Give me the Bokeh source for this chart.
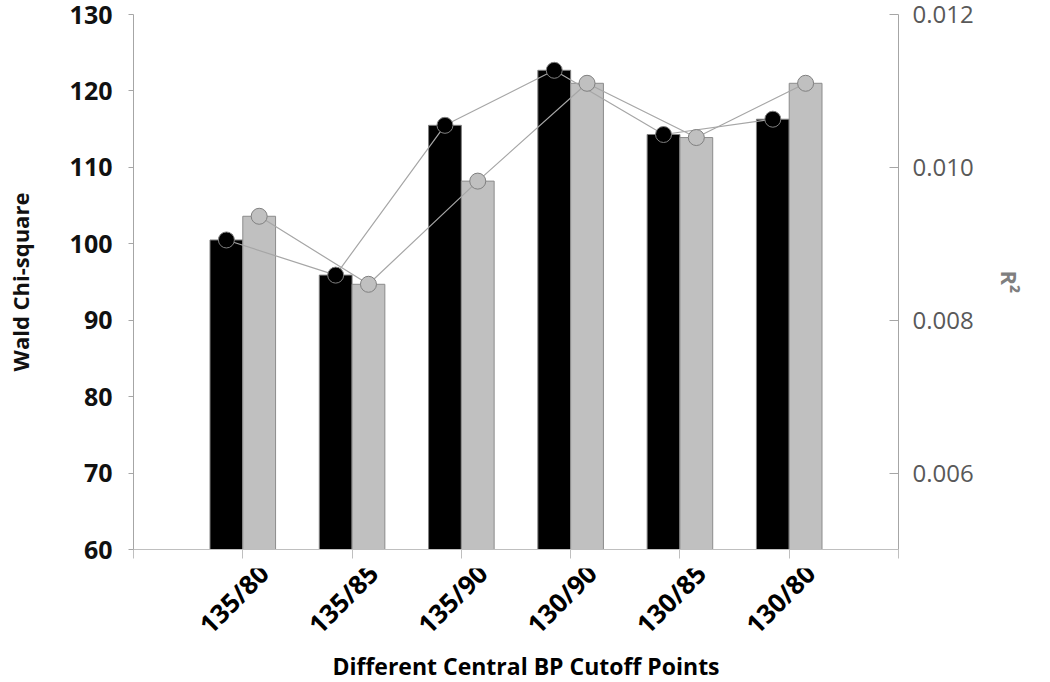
import math
from bokeh.plotting import figure
from bokeh.layouts import column
from bokeh.models import Range1d, LinearAxis, FixedTicker, NumeralTickFormatter
from bokeh.core.properties import value
from bokeh.embed import file_html
from bokeh.resources import INLINE

categories = ["135/80", "135/85", "135/90", "130/90", "130/85", "130/80"]
wald = [100.5, 95.9, 115.5, 122.7, 114.3, 116.3]
r2 = [0.00936, 0.00847, 0.00982, 0.01110, 0.01039, 0.01110]
left_ticks = [60, 70, 80, 90, 100, 110, 120, 130]
right_ticks = [0.006, 0.008, 0.010, 0.012]

pos = [i + 1 for i in range(len(categories))]
bw = 0.3
x_black = [x - bw / 2 for x in pos]
x_grey = [x + bw / 2 for x in pos]
xmax = len(categories) + 1

W = 1042
BL, BR = 133, 144
H1, H2 = 568, 110

p = figure(width=W, height=H1, x_range=Range1d(0, xmax),
           y_range=Range1d(60, 130), output_backend="svg", toolbar_location=None,
           min_border_left=BL, min_border_right=BR, min_border_top=14,
           min_border_bottom=19)
p.extra_y_ranges = {"r2": Range1d(0.005, 0.012)}
p.outline_line_color = None
p.xgrid.visible = False
p.ygrid.visible = False

p.vbar(x=x_black, top=wald, bottom=60, width=bw, fill_color="#000000",
       line_color="#808080", line_width=1)
p.vbar(x=x_grey, top=r2, bottom=0.005, width=bw, fill_color="#c0c0c0",
       line_color="#8c8c8c", line_width=1, y_range_name="r2")

p.line(x=x_black, y=wald, line_color="#a6a6a6", line_width=1.2)
p.line(x=x_grey, y=r2, line_color="#a6a6a6", line_width=1.2, y_range_name="r2")
p.scatter(x=x_black, y=wald, size=16, fill_color="#000000", line_color="#808080",
          line_width=1)
p.scatter(x=x_grey, y=r2, size=16, fill_color="#c0c0c0", line_color="#808080",
          line_width=1, y_range_name="r2")

# x axis: ticks only, labels drawn in the strip below
xa = p.xaxis[0]
xa.ticker = FixedTicker(ticks=list(range(0, xmax + 1)))
xa.major_label_overrides = {t: " " for t in range(0, xmax + 1)}
xa.major_label_text_font_size = "2px"
xa.major_label_standoff = 0
xa.major_tick_out = 9
xa.major_tick_in = 0
xa.minor_tick_line_color = None
xa.axis_line_color = "#bfbfbf"
xa.major_tick_line_color = "#bfbfbf"

# left axis
ya = p.yaxis[0]
ya.ticker = FixedTicker(ticks=left_ticks)
ya.major_label_text_font = "Open Sans"
ya.major_label_text_font_style = "bold"
ya.major_label_text_font_size = "25px"
ya.major_label_text_color = "#111111"
ya.major_label_standoff = 16
ya.major_tick_out = 5
ya.major_tick_in = 0
ya.minor_tick_line_color = None
ya.axis_line_color = "#a6a6a6"
ya.major_tick_line_color = "#a6a6a6"
ya.axis_label = "Wald Chi-square"
ya.axis_label_text_font = "Open Sans"
ya.axis_label_text_font_style = "bold"
ya.axis_label_text_font_size = "22px"
ya.axis_label_text_color = "#111111"
ya.axis_label_standoff = 32

# right axis
ra = LinearAxis(y_range_name="r2", ticker=FixedTicker(ticks=right_ticks),
                formatter=NumeralTickFormatter(format="0.000"))
ra.major_label_text_font = "Open Sans"
ra.major_label_text_font_size = "24px"
ra.major_label_text_color = "#595959"
ra.major_label_standoff = 14
ra.major_tick_in = 9
ra.major_tick_out = 0
ra.minor_tick_line_color = None
ra.axis_line_color = "#a6a6a6"
ra.major_tick_line_color = "#a6a6a6"
ra.axis_label = "R²"
ra.axis_label_text_font = "Open Sans"
ra.axis_label_text_font_style = "bold"
ra.axis_label_text_font_size = "22px"
ra.axis_label_text_color = "#7f7f7f"
ra.axis_label_standoff = 18
p.add_layout(ra, "right")

# strip below for category labels and the x-axis title
p2 = figure(width=W, height=H2, x_range=p.x_range, y_range=Range1d(0, H2),
            output_backend="svg", toolbar_location=None,
            min_border_left=BL, min_border_right=BR, min_border_top=0,
            min_border_bottom=0)
p2.axis.visible = False
p2.grid.visible = False
p2.outline_line_color = None
p2.text(x=pos, y=[H2] * len(pos), text=categories, angle=math.pi / 4,
        x_offset=21, text_align="right", text_baseline="middle",
        text_font=value("Open Sans"), text_font_style="bold",
        text_font_size="26px", text_color="#000000")
p2.text(x=[xmax / 2], y=[13], text=["Different Central BP Cutoff Points"],
        x_offset=10, text_align="center", text_baseline="middle",
        text_font=value("Open Sans"), text_font_style="bold",
        text_font_size="23px", text_color="#000000")

layout = column(p, p2, spacing=0)
open("out.html", "w").write(file_html(layout, INLINE))
